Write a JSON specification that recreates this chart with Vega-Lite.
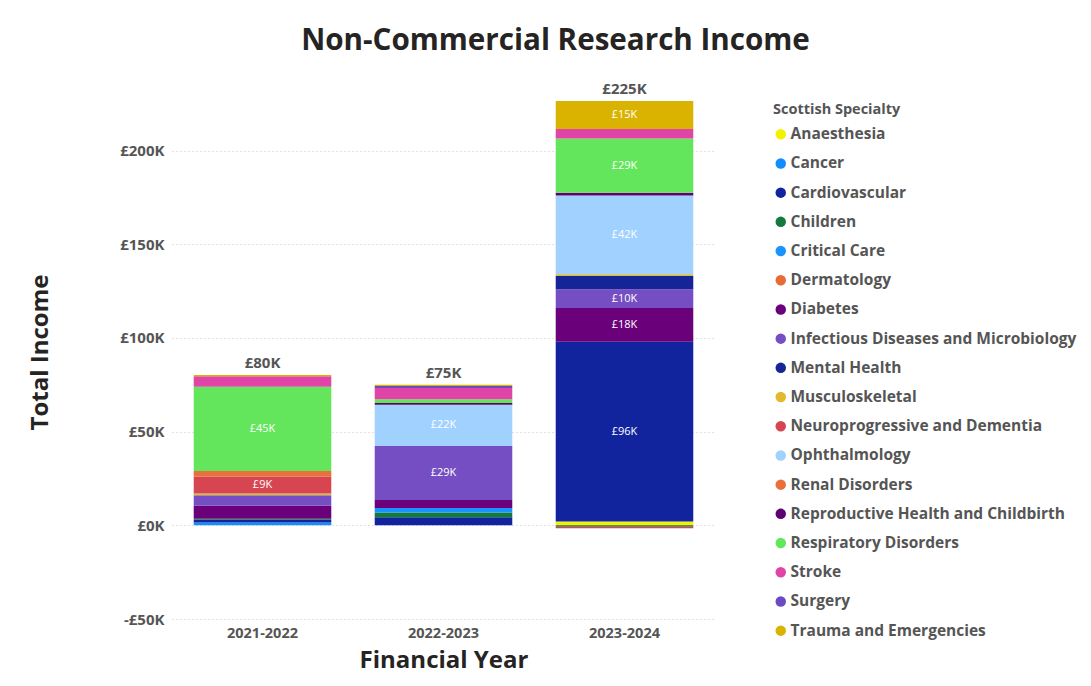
{
  "$schema": "https://vega.github.io/schema/vega-lite/v6.json",
  "autosize": {"type": "none"},
  "width": 543,
  "height": 534,
  "padding": {"left": 172, "top": 85, "right": 376, "bottom": 67},
  "background": "white",
  "title": {
    "text": "Non-Commercial Research Income",
    "font": "Open Sans",
    "fontSize": 29.6,
    "fontWeight": "bold",
    "color": "#252423",
    "anchor": "middle",
    "dx": 112,
    "offset": 25
  },
  "config": {
    "view": {"stroke": null},
    "font": "Open Sans"
  },
  "data": {
    "values": [
      {"year": "2021-2022", "specialty": "Cancer", "value": 1500},
      {"year": "2021-2022", "specialty": "Cardiovascular", "value": 1500},
      {"year": "2021-2022", "specialty": "Children", "value": 500},
      {"year": "2021-2022", "specialty": "Diabetes", "value": 7000},
      {"year": "2021-2022", "specialty": "Infectious Diseases and Microbiology", "value": 5500},
      {"year": "2021-2022", "specialty": "Musculoskeletal", "value": 1000},
      {"year": "2021-2022", "specialty": "Neuroprogressive and Dementia", "value": 9000},
      {"year": "2021-2022", "specialty": "Renal Disorders", "value": 3000},
      {"year": "2021-2022", "specialty": "Respiratory Disorders", "value": 45000},
      {"year": "2021-2022", "specialty": "Stroke", "value": 5500},
      {"year": "2021-2022", "specialty": "Trauma and Emergencies", "value": 700},
      {"year": "2022-2023", "specialty": "Cardiovascular", "value": 4300},
      {"year": "2022-2023", "specialty": "Children", "value": 2500},
      {"year": "2022-2023", "specialty": "Critical Care", "value": 2500},
      {"year": "2022-2023", "specialty": "Diabetes", "value": 4200},
      {"year": "2022-2023", "specialty": "Infectious Diseases and Microbiology", "value": 28800},
      {"year": "2022-2023", "specialty": "Ophthalmology", "value": 22000},
      {"year": "2022-2023", "specialty": "Reproductive Health and Childbirth", "value": 1000},
      {"year": "2022-2023", "specialty": "Respiratory Disorders", "value": 2000},
      {"year": "2022-2023", "specialty": "Stroke", "value": 6000},
      {"year": "2022-2023", "specialty": "Surgery", "value": 1000},
      {"year": "2022-2023", "specialty": "Trauma and Emergencies", "value": 700},
      {"year": "2023-2024", "specialty": "Anaesthesia", "value": 2000},
      {"year": "2023-2024", "specialty": "Cardiovascular", "value": 96000},
      {"year": "2023-2024", "specialty": "Children", "value": -700},
      {"year": "2023-2024", "specialty": "Diabetes", "value": 18000},
      {"year": "2023-2024", "specialty": "Infectious Diseases and Microbiology", "value": 10000},
      {"year": "2023-2024", "specialty": "Mental Health", "value": 7000},
      {"year": "2023-2024", "specialty": "Musculoskeletal", "value": 1000},
      {"year": "2023-2024", "specialty": "Neuroprogressive and Dementia", "value": -800},
      {"year": "2023-2024", "specialty": "Ophthalmology", "value": 42000},
      {"year": "2023-2024", "specialty": "Reproductive Health and Childbirth", "value": 1500},
      {"year": "2023-2024", "specialty": "Respiratory Disorders", "value": 29000},
      {"year": "2023-2024", "specialty": "Stroke", "value": 5000},
      {"year": "2023-2024", "specialty": "Trauma and Emergencies", "value": 15000}
    ]
  },
  "encoding": {
    "x": {
      "field": "year",
      "type": "nominal",
      "scale": {"paddingInner": 0.24, "paddingOuter": 0.12},
      "axis": {
        "title": "Financial Year",
        "titleFont": "Open Sans",
        "titleFontSize": 24,
        "titleFontWeight": "bold",
        "titleColor": "#252423",
        "titlePadding": 9,
        "labelAngle": 0,
        "labelFont": "Open Sans",
        "labelFontSize": 14.5,
        "labelFontWeight": "bold",
        "labelColor": "#555555",
        "labelPadding": 7,
        "domain": false,
        "ticks": false
      }
    }
  },
  "layer": [
    {
      "mark": {"type": "bar"},
      "encoding": {
        "y": {
          "field": "value",
          "type": "quantitative",
          "stack": "zero",
          "scale": {"domain": [-50000, 235000], "nice": false, "zero": false},
          "axis": {
            "title": "Total Income",
            "titleFont": "Open Sans",
            "titleFontSize": 24,
            "titleFontWeight": "bold",
            "titleColor": "#252423",
            "titlePadding": 67,
            "values": [-50000, 0, 50000, 100000, 150000, 200000],
            "labelExpr": "datum.value < 0 ? '-£' + format(-datum.value/1000, '.0f') + 'K' : '£' + format(datum.value/1000, '.0f') + 'K'",
            "labelFont": "Open Sans",
            "labelFontSize": 15,
            "labelFontWeight": "bold",
            "labelColor": "#555555",
            "labelPadding": 8,
            "domain": false,
            "ticks": false,
            "grid": true,
            "gridColor": "#C8C6C4",
            "gridDash": [1, 3],
            "gridWidth": 1
          }
        },
        "order": {"field": "specialty", "sort": "ascending"},
        "color": {
          "field": "specialty",
          "type": "nominal",
          "scale": {
            "domain": ["Anaesthesia", "Cancer", "Cardiovascular", "Children", "Critical Care", "Dermatology", "Diabetes", "Infectious Diseases and Microbiology", "Mental Health", "Musculoskeletal", "Neuroprogressive and Dementia", "Ophthalmology", "Renal Disorders", "Reproductive Health and Childbirth", "Respiratory Disorders", "Stroke", "Surgery", "Trauma and Emergencies"],
            "range": ["#F2F200", "#118DFF", "#12239E", "#137A3C", "#1A93FF", "#E66C37", "#6B007B", "#744EC2", "#152496", "#E0B92E", "#D64550", "#A0D1FF", "#E8703A", "#5E006F", "#64E65C", "#E044A7", "#6A4BC4", "#D9B300"]
          },
          "legend": {
            "orient": "none",
            "legendX": 601,
            "legendY": 18,
            "title": "Scottish Specialty",
            "titleFont": "Open Sans",
            "titleFontSize": 14.5,
            "titleFontWeight": "bold",
            "titleColor": "#555555",
            "titlePadding": 9,
            "labelFont": "Open Sans",
            "labelFontSize": 15.5,
            "labelFontWeight": "bold",
            "labelColor": "#555555",
            "labelOffset": 2,
            "labelLimit": 400,
            "symbolType": "circle",
            "symbolSize": 110,
            "symbolStrokeWidth": 0,
            "rowPadding": 12.2
          }
        }
      }
    },
    {
      "transform": [
        {"stack": "value", "groupby": ["year"], "sort": [{"field": "specialty", "order": "ascending"}], "as": ["v0", "v1"], "offset": "zero"},
        {"filter": "datum.value >= 8500"},
        {"calculate": "(datum.v0 + datum.v1) / 2", "as": "mid"},
        {"calculate": "'£' + format(datum.value / 1000, '.0f') + 'K'", "as": "lbl"}
      ],
      "mark": {"type": "text", "color": "white", "font": "Open Sans", "fontSize": 11, "baseline": "middle"},
      "encoding": {
        "y": {"field": "mid", "type": "quantitative"},
        "text": {"field": "lbl"}
      }
    },
    {
      "transform": [
        {"calculate": "max(datum.value, 0)", "as": "pos"},
        {"aggregate": [{"op": "sum", "field": "value", "as": "total"}, {"op": "sum", "field": "pos", "as": "top"}], "groupby": ["year"]},
        {"calculate": "'£' + format(datum.total / 1000, '.0f') + 'K'", "as": "tlbl"}
      ],
      "mark": {"type": "text", "color": "#555555", "font": "Open Sans", "fontSize": 15, "fontWeight": "bold", "baseline": "bottom", "dy": -4},
      "encoding": {
        "y": {"field": "top", "type": "quantitative"},
        "text": {"field": "tlbl"}
      }
    }
  ]
}
